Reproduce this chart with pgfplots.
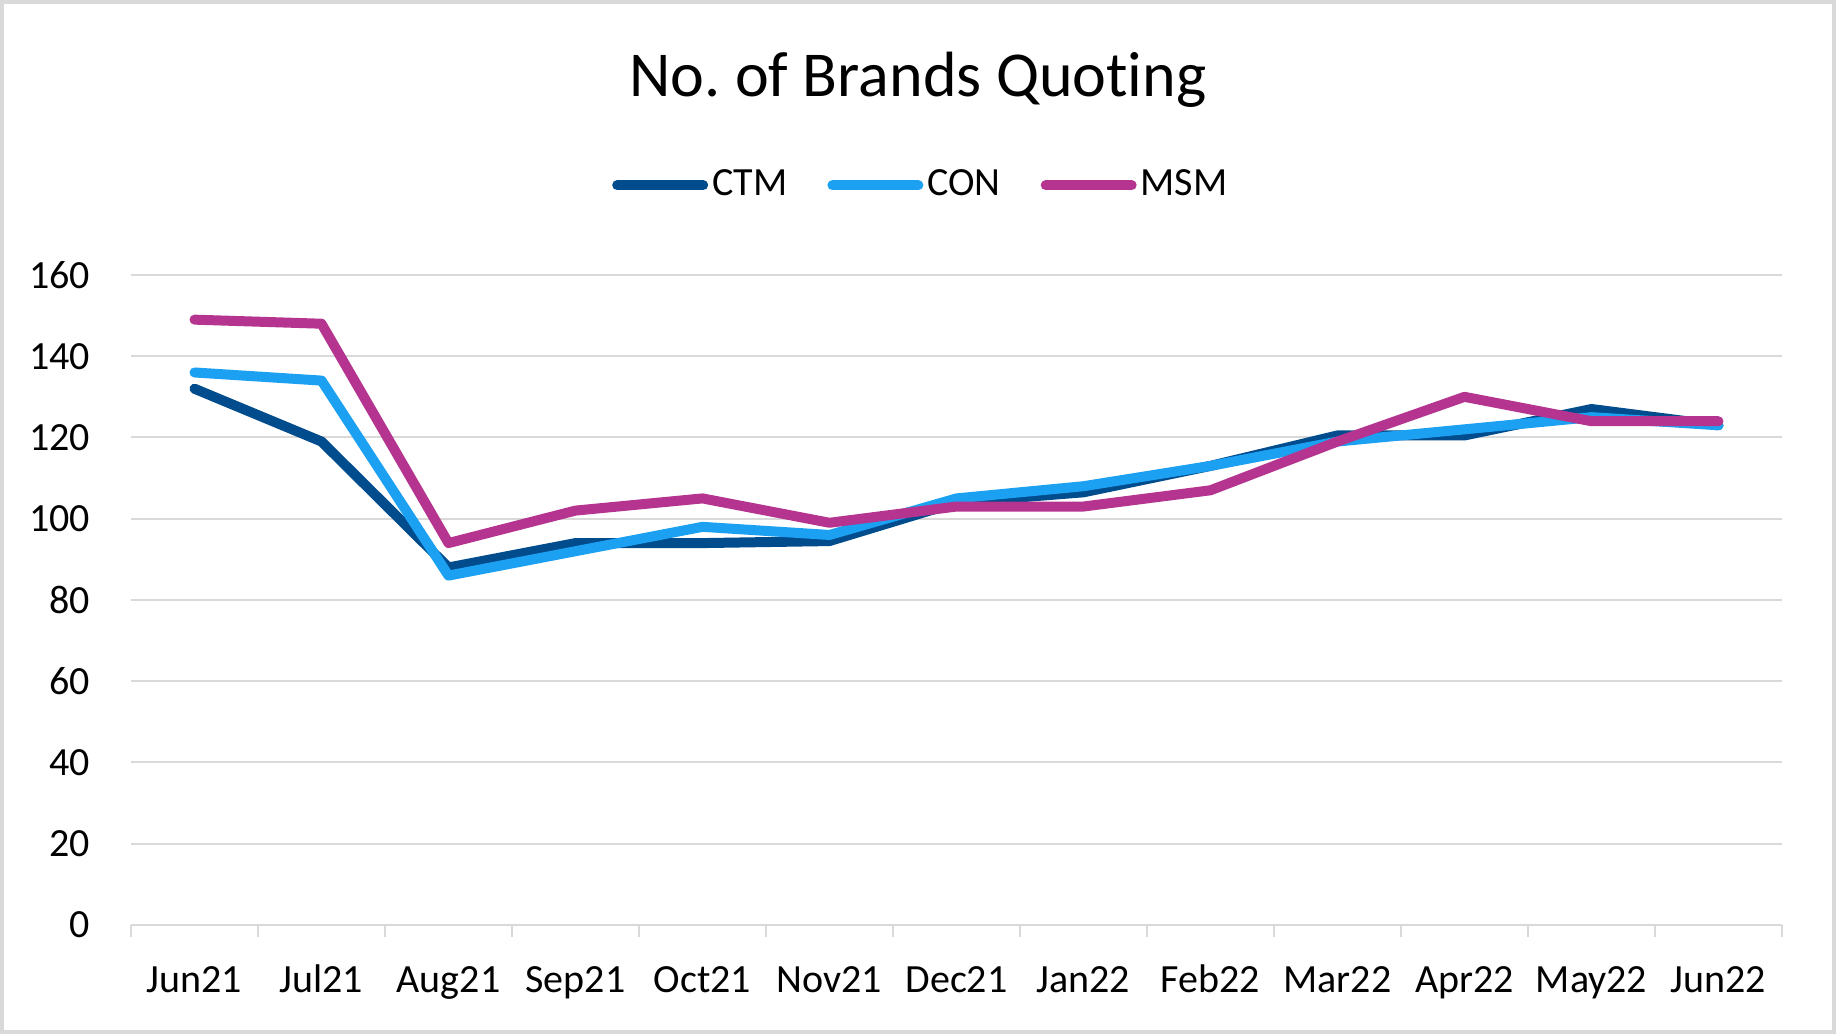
\documentclass[border=0pt]{standalone}
\usepackage{pgfplots}
\pgfplotsset{compat=1.18}
\usepackage{fontspec}
\setmainfont{Carlito}[Ligatures=NoCommon]

\definecolor{ctmc}{RGB}{0,76,140}
\definecolor{conc}{RGB}{27,160,242}
\definecolor{msmc}{RGB}{181,52,143}
\definecolor{gridc}{RGB}{217,217,217}

\begin{document}
\frenchspacing
\begin{tikzpicture}
  % chart area frame
  \draw[gridc, line width=1pt] (0.5pt,0.5pt) rectangle (458.5pt,258pt);
  \node[font=\fontsize{16}{19}\selectfont, anchor=center] at (229.5pt,238.5pt) {No.\ of Brands Quoting};
  \begin{axis}[
      at={(32.75pt,27.25pt)}, anchor=south west,
      scale only axis,
      width=412.75pt, height=162.5pt,
      xmin=-0.5, xmax=12.5,
      ymin=0, ymax=160,
      ytick={0,20,...,160},
      xtick={0,...,12},
      xticklabels={Jun21,Jul21,Aug21,Sep21,Oct21,Nov21,Dec21,Jan22,Feb22,Mar22,Apr22,May22,Jun22},
      minor xtick={-0.5,0.5,...,12.5},
      major tick length=0pt,
      minor tick length=3pt,
      tick align=outside,
      xtick pos=bottom,
      ytick style={draw=none},
      minor tick style={gridc, line width=0.6pt},
      axis x line*=bottom,
      axis y line*=left,
      x axis line style={gridc, line width=0.6pt, -},
      y axis line style={draw=none},
      ymajorgrids=true,
      grid style={gridc, line width=0.5pt},
      /pgf/number format/assume math mode=true,
      ticklabel style={font=\fontsize{10}{12}\selectfont},
      yticklabel style={anchor=east, inner sep=0pt, xshift=-10pt},
      xticklabel style={anchor=base, inner sep=0pt, yshift=-17pt},
      legend columns=-1,
      legend style={draw=none, fill=none, at={(0.479,1.138)}, anchor=center,
        font=\fontsize{10}{12}\selectfont,
        /tikz/every even column/.append style={column sep=9pt},
        nodes={inner sep=1pt}},
      legend image code/.code={\draw[#1, line cap=round] (0pt,0pt) -- (21.5pt,0pt);},
      every axis plot/.append style={line width=2.5pt, line cap=round, line join=round},
    ]
    \addplot[ctmc] coordinates {
      (0,132) (1,119) (2,88) (3,94) (4,94) (5,94.5) (6,104) (7,106.5) (8,113) (9,120.5) (10,120.5) (11,127) (12,123)
    };
    \addlegendentry{CTM}
    \addplot[conc] coordinates {
      (0,136) (1,134) (2,86) (3,92) (4,98) (5,96) (6,105) (7,108) (8,113) (9,119) (10,122) (11,125) (12,123)
    };
    \addlegendentry{CON}
    \addplot[msmc] coordinates {
      (0,149) (1,148) (2,94) (3,102) (4,105) (5,99) (6,103) (7,103) (8,107) (9,119) (10,130) (11,124) (12,124)
    };
    \addlegendentry{MSM}
  \end{axis}
\end{tikzpicture}
\end{document}
